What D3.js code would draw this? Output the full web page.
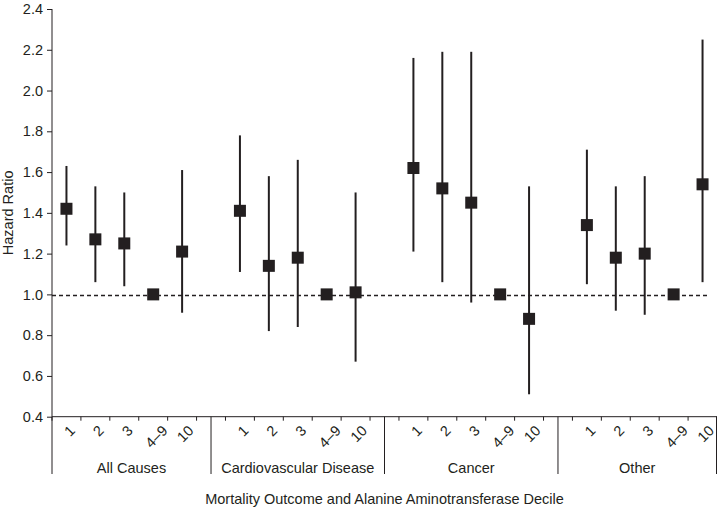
<!DOCTYPE html>
<html><head><meta charset="utf-8">
<script src="https://cdn.jsdelivr.net/npm/d3@7"></script>
<style>body{margin:0;background:#fff}svg{display:block}text{font-family:"Liberation Sans",Arial,sans-serif;fill:#231f20}</style>
</head><body><svg id="c" width="717" height="510"></svg>
<script>
const groups = ["All Causes","Cardiovascular Disease","Cancer","Other"];
const deciles = ["1","2","3","4\u20139","10"];
const hrEstimate = [1.42,1.27,1.25,1.00,1.21, 1.41,1.14,1.18,1.00,1.01, 1.62,1.52,1.45,1.00,0.88, 1.34,1.18,1.20,1.00,1.54];
const hrLower    = [1.24,1.06,1.04,null,0.91, 1.11,0.82,0.84,null,0.67, 1.21,1.06,0.96,null,0.51, 1.05,0.92,0.90,null,1.06];
const hrUpper    = [1.63,1.53,1.50,null,1.61, 1.78,1.58,1.66,null,1.50, 2.16,2.19,2.19,null,1.53, 1.71,1.53,1.58,null,2.25];
const yTicks = [0.4,0.6,0.8,1.0,1.2,1.4,1.6,1.8,2.0,2.2,2.4];
const referenceHR = 1.0;

(function(){
const ink = "#231f20";
const svg = d3.select("#c");
const pLeft = 52, pRight = 717, pTop = 9, pBottom = 416.7;

const slots = [];
groups.forEach((g,gi)=>{
  deciles.forEach((d,di)=>slots.push({key:g+"|"+d, group:g, decile:d, idx:gi*5+di}));
  if (gi < groups.length-1) slots.push({key:"gap"+gi, gap:true});
});
const x = d3.scaleBand().domain(slots.map(s=>s.key)).range([pLeft,pRight]).padding(0);
const y = d3.scaleLinear().domain([0.4,2.4]).range([pBottom,pTop]);

const yAxis = svg.append("g").attr("transform",`translate(${pLeft},0)`)
  .call(d3.axisLeft(y).tickValues(yTicks).tickFormat(d3.format(".1f")).tickSize(5).tickPadding(4));
yAxis.select(".domain").remove();
yAxis.selectAll("line").attr("stroke",ink);
yAxis.selectAll("text").attr("font-size","14.5px").attr("fill",ink).style("font-family",'"Liberation Sans",Arial,sans-serif');
svg.append("line").attr("x1",pLeft).attr("x2",pLeft).attr("y1",pTop).attr("y2",pBottom).attr("stroke",ink);

svg.append("line").attr("x1",pLeft).attr("x2",pRight).attr("y1",pBottom).attr("y2",pBottom).attr("stroke",ink);
const bounds = slots.map(s=>x(s.key)).concat([pRight]);
svg.selectAll("line.xt").data(bounds).join("line").attr("class","xt")
  .attr("x1",d=>d).attr("x2",d=>d).attr("y1",pBottom).attr("y2",pBottom+4).attr("stroke",ink);
const sepX = [pLeft].concat(slots.filter(s=>s.gap).map(s=>x(s.key)+x.bandwidth()/2)).concat([pRight-0.5]);
svg.selectAll("line.sep").data(sepX).join("line").attr("class","sep")
  .attr("x1",d=>d).attr("x2",d=>d).attr("y1",pBottom).attr("y2",474).attr("stroke",ink);

const dataSlots = slots.filter(s=>!s.gap);
svg.selectAll("text.dl").data(dataSlots).join("text").attr("class","dl")
  .attr("font-size","14.5px").attr("text-anchor","end").attr("dy","0.35em")
  .text(d=>d.decile)
  .attr("transform",function(d){
    const L = this.getComputedTextLength();
    const cx = x(d.key)+x.bandwidth()/2;
    return `translate(${cx + L*0.3535 + 3},428)rotate(-45)`;
  });

groups.forEach((g,gi)=>{
  const cx = (sepX[gi]+sepX[gi+1])/2;
  svg.append("text").attr("x",cx).attr("y",473).attr("text-anchor","middle").attr("font-size","14.5px").text(g);
});

svg.append("text").attr("x",(pLeft+pRight)/2).attr("y",504).attr("text-anchor","middle").attr("font-size","14.5px")
  .text("Mortality Outcome and Alanine Aminotransferase Decile");
svg.append("text").attr("transform",`translate(13,${(pTop+pBottom)/2})rotate(-90)`).attr("text-anchor","middle").attr("font-size","14.5px")
  .text("Hazard Ratio");

svg.append("line").attr("x1",pLeft).attr("x2",pRight-8).attr("y1",y(referenceHR)+1).attr("y2",y(referenceHR)+1)
  .attr("stroke",ink).attr("stroke-width",1.5).attr("stroke-dasharray","4,3");

svg.selectAll("line.ci").data(dataSlots.filter(d=>hrLower[d.idx]!=null)).join("line").attr("class","ci")
  .attr("x1",d=>x(d.key)+x.bandwidth()/2).attr("x2",d=>x(d.key)+x.bandwidth()/2)
  .attr("y1",d=>y(hrLower[d.idx])).attr("y2",d=>y(hrUpper[d.idx]))
  .attr("stroke",ink).attr("stroke-width",2);

const sq = 12;
svg.selectAll("rect.pt").data(dataSlots).join("rect").attr("class","pt")
  .attr("x",d=>x(d.key)+x.bandwidth()/2-sq/2).attr("y",d=>y(hrEstimate[d.idx])-sq/2)
  .attr("width",sq).attr("height",sq).attr("fill",ink);
})();
</script></body></html>
